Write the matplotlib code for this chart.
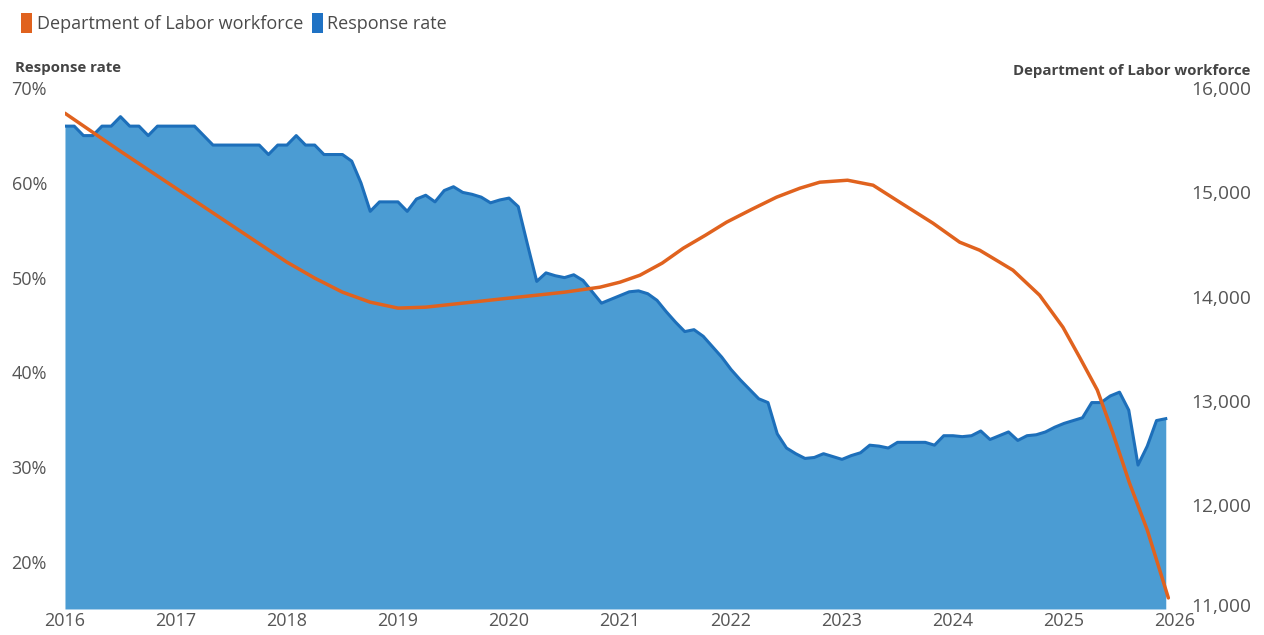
import numpy as np
import matplotlib.pyplot as plt
from matplotlib.patches import Patch
from matplotlib.ticker import FuncFormatter
from matplotlib.transforms import ScaledTranslation

plt.rcParams['font.family'] = ['Open Sans', 'DejaVu Sans']

# monthly response rate (%), Jan 2016 .. Dec 2025
response_rate = [
    66, 66, 65, 65, 66, 66, 67, 66, 66, 65, 66, 66,
    66, 66, 66, 65, 64, 64, 64, 64, 64, 64, 63, 64,
    64, 65, 64, 64, 63, 63, 63, 62.3, 60, 57, 58, 58,
    58, 57, 58.3, 58.7, 58, 59.2, 59.6, 59, 58.8, 58.5, 57.9, 58.2,
    58.4, 57.5, 53.5, 49.6, 50.5, 50.2, 50.0, 50.3, 49.7, 48.5, 47.3, 47.7,
    48.1, 48.5, 48.6, 48.3, 47.6, 46.4, 45.3, 44.3, 44.5, 43.8, 42.7, 41.6,
    40.3, 39.2, 38.2, 37.2, 36.8, 33.5, 32.0, 31.4, 30.9, 31.0, 31.4, 31.1,
    30.8, 31.2, 31.5, 32.3, 32.2, 32.0, 32.6, 32.6, 32.6, 32.6, 32.3, 33.3,
    33.3, 33.2, 33.3, 33.8, 32.9, 33.3, 33.7, 32.8, 33.3, 33.4, 33.7, 34.2,
    34.6, 34.9, 35.2, 36.8, 36.8, 37.5, 37.9, 36.0, 30.2, 32.2, 34.9, 35.1,
]
rate_time = 2016 + np.arange(len(response_rate)) / 12

# DOL workforce (headcount)
dol_time = [2016.0, 2016.5, 2017.0, 2017.5, 2018.0, 2018.25, 2018.5, 2018.75,
            2019.0, 2019.25, 2019.5, 2019.75, 2020.0, 2020.25, 2020.5, 2020.82,
            2021.0, 2021.18, 2021.38, 2021.57, 2021.77, 2021.96, 2022.19, 2022.41,
            2022.62, 2022.8, 2023.05, 2023.28, 2023.52, 2023.82, 2024.06, 2024.24,
            2024.42, 2024.54, 2024.78, 2024.99, 2025.14, 2025.3, 2025.44, 2025.59,
            2025.75, 2025.94]
dol_workforce = [15760, 15395, 15040, 14685, 14330, 14177, 14042, 13946,
                 13889, 13898, 13927, 13956, 13985, 14013, 14042, 14090,
                 14138, 14205, 14321, 14464, 14589, 14714, 14839, 14954,
                 15040, 15098, 15117, 15069, 14906, 14704, 14522, 14445,
                 14330, 14253, 14013, 13706, 13418, 13102, 12689, 12209,
                 11758, 11106]

years = list(range(2016, 2027))
rate_ticks = [20, 30, 40, 50, 60, 70]
dol_ticks = [11000, 12000, 13000, 14000, 15000, 16000]

blue_fill = '#4b9cd3'
blue_edge = '#1d6fba'
orange = '#e0621e'
gray = '#555555'

fig = plt.figure(figsize=(12.64, 6.35), dpi=100)
ax = fig.add_axes([0.0514, 0.041, 0.8782, 0.820])

ax.fill_between(rate_time, response_rate, 15, color=blue_fill, lw=0)
ax.plot(rate_time, response_rate, color=blue_edge, lw=2.2, solid_joinstyle='round')
ax.set_xlim(2016, 2026)
ax.set_ylim(15, 70)
ax.set_yticks(rate_ticks)
ax.set_yticklabels([f'{v}%' for v in rate_ticks])
ax.set_xticks(years)
ax.tick_params(length=0, labelsize=13, colors=gray)
ax.tick_params(axis='x', pad=2)
ax.tick_params(axis='y', pad=13)
for s in ax.spines.values():
    s.set_visible(False)

ax2 = ax.twinx()
ax2.plot(dol_time, dol_workforce, color=orange, lw=2.5,
         solid_capstyle='round', solid_joinstyle='round')
ax2.set_ylim(11000, 16000)
ax2.set_yticks(dol_ticks)
ax2.yaxis.set_major_formatter(FuncFormatter(lambda v, p: f'{v:,.0f}'))
ax2.tick_params(length=0, labelsize=13.8, colors=gray, pad=55)
for lab in ax2.get_yticklabels():
    lab.set_horizontalalignment('right')
# nudge the bottom label up a touch so it clears the 2026 year label
ax2.get_yticklabels()[0].set_transform(
    ax2.get_yticklabels()[0].get_transform() + ScaledTranslation(0, 0.04, fig.dpi_scale_trans))
for s in ax2.spines.values():
    s.set_visible(False)

fig.text(0.012, 0.893, 'Response rate', fontsize=10.8, fontweight='bold',
         color='#444444', va='center')
fig.text(0.989, 0.888, 'Department of Labor workforce', fontsize=10.8,
         fontweight='bold', color='#444444', va='center', ha='right')

handles = [Patch(facecolor=orange, edgecolor='none', label='Department of Labor workforce'),
           Patch(facecolor='#1f72c4', edgecolor='none', label='Response rate')]
fig.legend(handles=handles, loc='upper left', bbox_to_anchor=(0.004, 1.005), ncol=2,
           frameon=False, fontsize=13, handlelength=0.6, handleheight=1.3,
           handletextpad=0.25, columnspacing=0.5, labelcolor='#4a4a4a')

fig.savefig('out.png', dpi=100)
